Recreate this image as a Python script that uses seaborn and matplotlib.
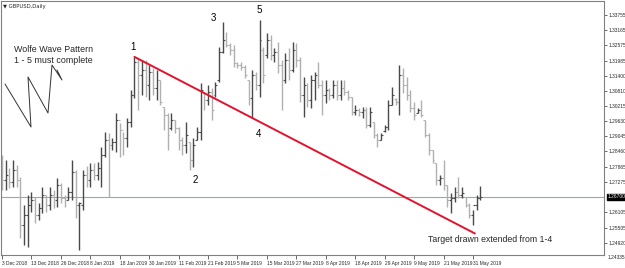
import numpy as np
import pandas as pd
import matplotlib
matplotlib.use('Agg')
import matplotlib.pyplot as plt
import matplotlib.transforms as mtransforms
import seaborn as sns

# GBPUSD daily OHLC (3 Dec 2018 - early Jun 2019)
opens = [1.2794, 1.2735, 1.2755, 1.2728, 1.2774, 1.2735, 1.2561, 1.2600, 1.2638, 1.2658,
         1.2600, 1.2627, 1.2677, 1.2638, 1.2677, 1.2658, 1.2716, 1.2665, 1.2658, 1.2689,
         1.2766, 1.2638, 1.2638, 1.2755, 1.2735, 1.2774, 1.2755, 1.2782, 1.2832, 1.2891,
         1.2871, 1.2883, 1.2968, 1.2929, 1.2898, 1.2960, 1.3065, 1.3193, 1.3143, 1.3162,
         1.3104, 1.3154, 1.3092, 1.3123, 1.3019, 1.2988, 1.2937, 1.2968, 1.2937, 1.2891,
         1.2871, 1.2883, 1.2813, 1.2891, 1.2922, 1.3073, 1.3046, 1.3077, 1.3065, 1.3123,
         1.3232, 1.3279, 1.3259, 1.3240, 1.3189, 1.3182, 1.3174, 1.3123, 1.3053, 1.3143,
         1.3104, 1.3240, 1.3220, 1.3279, 1.3220, 1.3232, 1.3182, 1.3123, 1.3201, 1.3162,
         1.3240, 1.3201, 1.3065, 1.3104, 1.3046, 1.3123, 1.3143, 1.3104, 1.3065, 1.3085,
         1.3065, 1.3104, 1.3065, 1.3092, 1.3077, 1.3057, 1.2999, 1.3007, 1.2999, 1.3007,
         1.2949, 1.2960, 1.2910, 1.2891, 1.2925, 1.2941, 1.3026, 1.3050, 1.3038, 1.3143,
         1.3104, 1.3065, 1.3015, 1.2995, 1.3007, 1.2968, 1.2910, 1.2852, 1.2801, 1.2735,
         1.2743, 1.2716, 1.2658, 1.2665, 1.2689, 1.2677, 1.2669, 1.2638, 1.2600, 1.2638,
         1.2665]
highs = [1.2832, 1.2813, 1.2782, 1.2813, 1.2794, 1.2747, 1.2638, 1.2677, 1.2689, 1.2669,
         1.2646, 1.2708, 1.2677, 1.2708, 1.2697, 1.2743, 1.2724, 1.2677, 1.2708, 1.2813,
         1.2774, 1.2650, 1.2774, 1.2790, 1.2801, 1.2801, 1.2805, 1.2863, 1.2922, 1.2918,
         1.2898, 1.2995, 1.2956, 1.2922, 1.2976, 1.3085, 1.3213, 1.3209, 1.3201, 1.3201,
         1.3182, 1.3170, 1.3162, 1.3123, 1.3019, 1.2995, 1.2995, 1.2968, 1.2941, 1.2902,
         1.2960, 1.2883, 1.2898, 1.2941, 1.3112, 1.3073, 1.3104, 1.3092, 1.3116, 1.3251,
         1.3348, 1.3310, 1.3267, 1.3259, 1.3193, 1.3193, 1.3182, 1.3123, 1.3162, 1.3154,
         1.3356, 1.3251, 1.3306, 1.3298, 1.3247, 1.3271, 1.3201, 1.3228, 1.3247, 1.3271,
         1.3267, 1.3213, 1.3135, 1.3112, 1.3143, 1.3154, 1.3193, 1.3123, 1.3123, 1.3092,
         1.3123, 1.3123, 1.3123, 1.3123, 1.3085, 1.3057, 1.3026, 1.3015, 1.3019, 1.3019,
         1.3019, 1.2960, 1.2918, 1.2918, 1.2949, 1.3046, 1.3096, 1.3053, 1.3182, 1.3170,
         1.3135, 1.3085, 1.3038, 1.3015, 1.3046, 1.2968, 1.2918, 1.2852, 1.2801, 1.2755,
         1.2813, 1.2716, 1.2685, 1.2708, 1.2747, 1.2708, 1.2669, 1.2646, 1.2619, 1.2677,
         1.2712]
lows = [1.2697, 1.2697, 1.2704, 1.2708, 1.2708, 1.2510, 1.2483, 1.2475, 1.2611, 1.2568,
        1.2580, 1.2607, 1.2611, 1.2619, 1.2627, 1.2631, 1.2646, 1.2631, 1.2658, 1.2658,
        1.2588, 1.2464, 1.2619, 1.2708, 1.2708, 1.2735, 1.2735, 1.2708, 1.2825, 1.2669,
        1.2852, 1.2844, 1.2825, 1.2832, 1.2863, 1.2941, 1.3053, 1.3007, 1.3065, 1.3057,
        1.3046, 1.3065, 1.3046, 1.3026, 1.2929, 1.2852, 1.2929, 1.2918, 1.2852, 1.2832,
        1.2840, 1.2774, 1.2786, 1.2891, 1.2891, 1.3007, 1.3026, 1.2968, 1.3057, 1.3116,
        1.3228, 1.3251, 1.3220, 1.3174, 1.3170, 1.3162, 1.3131, 1.3026, 1.2976, 1.3085,
        1.3057, 1.3112, 1.3209, 1.3201, 1.3193, 1.3150, 1.3007, 1.3112, 1.3123, 1.3154,
        1.3174, 1.3038, 1.2980, 1.3019, 1.3015, 1.3046, 1.3092, 1.2988, 1.3034, 1.3046,
        1.3053, 1.3046, 1.3046, 1.3065, 1.3046, 1.2988, 1.2988, 1.2984, 1.2976, 1.2937,
        1.2941, 1.2898, 1.2863, 1.2891, 1.2922, 1.2929, 1.3026, 1.3026, 1.2988, 1.3073,
        1.3046, 1.2999, 1.2968, 1.2995, 1.2980, 1.2902, 1.2832, 1.2801, 1.2716, 1.2716,
        1.2697, 1.2631, 1.2607, 1.2650, 1.2665, 1.2665, 1.2631, 1.2588, 1.2561, 1.2619,
        1.2658]
closes = [1.2735, 1.2755, 1.2728, 1.2774, 1.2735, 1.2561, 1.2600, 1.2638, 1.2658, 1.2600,
          1.2627, 1.2677, 1.2638, 1.2677, 1.2658, 1.2716, 1.2665, 1.2658, 1.2689, 1.2766,
          1.2638, 1.2646, 1.2755, 1.2735, 1.2774, 1.2755, 1.2782, 1.2832, 1.2891, 1.2871,
          1.2883, 1.2968, 1.2929, 1.2898, 1.2960, 1.3065, 1.3193, 1.3143, 1.3162, 1.3104,
          1.3154, 1.3092, 1.3123, 1.3038, 1.2988, 1.2910, 1.2968, 1.2937, 1.2891, 1.2871,
          1.2910, 1.2813, 1.2871, 1.2922, 1.3085, 1.3046, 1.3077, 1.3007, 1.3104, 1.3232,
          1.3279, 1.3259, 1.3240, 1.3189, 1.3182, 1.3174, 1.3143, 1.3053, 1.3143, 1.3104,
          1.3279, 1.3143, 1.3279, 1.3220, 1.3232, 1.3182, 1.3123, 1.3201, 1.3162, 1.3240,
          1.3201, 1.3065, 1.3104, 1.3046, 1.3123, 1.3143, 1.3104, 1.3065, 1.3085, 1.3065,
          1.3104, 1.3065, 1.3092, 1.3077, 1.3057, 1.2999, 1.3007, 1.2999, 1.3007, 1.2949,
          1.2999, 1.2910, 1.2891, 1.2910, 1.2941, 1.3026, 1.3065, 1.3038, 1.3143, 1.3104,
          1.3065, 1.3015, 1.2988, 1.3007, 1.2988, 1.2910, 1.2852, 1.2813, 1.2735, 1.2743,
          1.2716, 1.2658, 1.2665, 1.2689, 1.2677, 1.2685, 1.2638, 1.2600, 1.2638, 1.2665,
          1.2670]

date_labels = ['3 Dec 2018', '13 Dec 2018', '26 Dec 2018', '8 Jan 2019', '18 Jan 2019',
               '30 Jan 2019', '11 Feb 2019', '21 Feb 2019', '5 Mar 2019', '15 Mar 2019',
               '27 Mar 2019', '8 Apr 2019', '18 Apr 2019', '29 Apr 2019', '9 May 2019',
               '21 May 2019', '31 May 2019']
bars_per_label = 8

price_labels = ['1.33755', '1.33165', '1.32575', '1.31985', '1.31400', '1.30810',
                '1.30215', '1.29630', '1.29045', '1.28460', '1.27865', '1.27275',
                '1.26105', '1.25505', '1.24920']
bottom_price_label = '1.24335'

# Wolfe wave points (bar index) and which end of the bar they sit on
wave_bars = [36, 51, 60, 68, 70]
wave_names = ['1', '2', '3', '4', '5']
wave_on_high = [True, False, True, False, True]
target_bar = 128.5

df = pd.DataFrame({'open': opens, 'high': highs, 'low': lows, 'close': closes})
df['bar'] = np.arange(len(df))
up = df['close'] >= df['open']

sns.set_theme(style='white')
plt.rcParams['font.family'] = ['Liberation Sans', 'DejaVu Sans']

fig = plt.figure(figsize=(6.25, 2.68), dpi=100)
ax = fig.add_axes([1 / 625, 1 - 255 / 268, 603 / 625, 254 / 268])
ax.set_xlim(-0.27, 163.6)
ax.set_ylim(1.24443, 1.34298)

# OHLC bars: dark for up days, light for down days
for mask, col in [(up, '#4a4a4a'), (~up, '#b0b0b0')]:
    d = df[mask]
    ax.vlines(d['bar'], d['low'], d['high'], color=col, lw=1.0)
    ax.hlines(d['open'], d['bar'] - 0.5, d['bar'], color=col, lw=0.8)
    ax.hlines(d['close'], d['bar'], d['bar'] + 0.5, color=col, lw=0.8)

# current price line
last = closes[-1]
ax.axhline(last, color='#9aa6b4', lw=0.8, zorder=0)

# trend line 1 -> 4 extended to the target
p1 = highs[wave_bars[0]]
p4 = lows[wave_bars[3]]
slope = (p4 - p1) / (wave_bars[3] - wave_bars[0])
trend = pd.DataFrame({'bar': [wave_bars[0], target_bar],
                      'price': [p1, p1 + slope * (target_bar - wave_bars[0])]})
sns.lineplot(data=trend, x='bar', y='price', color='#e3122d', lw=1.4, ax=ax)

wave_offsets = [(-1, 10), (6, -10), (-9, 4), (6, -16), (0, 10)]
for b, name, hi, off in zip(wave_bars, wave_names, wave_on_high, wave_offsets):
    y = highs[b] if hi else lows[b]
    ax.annotate(name, (b, y), xytext=off, textcoords='offset pixels',
                ha='center', va='center', fontsize=7, color='black')

ax.text(13 / 603, 1 - 44 / 254, 'Wolfe Wave Pattern\n1 - 5 must complete',
        transform=ax.transAxes, fontsize=6.4, va='top', ha='left', linespacing=1.25)
ax.text(132.6, 1.2503, 'Target drawn extended from 1-4', fontsize=6.3,
        ha='center', va='center')

# hand-drawn wave sketch (pixel positions on the screenshot)
sketch_x = [5, 31, 28, 48, 52, 62, 57]
sketch_y = [84, 127, 77, 113, 65, 80, 70]
ax.plot(np.array(sketch_x) / 625, 1 - np.array(sketch_y) / 268, color='#333333', lw=0.7,
        transform=fig.transFigure, clip_on=False)

ax.text(0.004, 0.988, '\u25BC GBPUSD,Daily', transform=ax.transAxes, fontsize=3.8,
        va='top', ha='left', family=['DejaVu Sans'])

# axes styling like the terminal
for s in ax.spines.values():
    s.set_color('#808080')
    s.set_linewidth(0.8)
ax.yaxis.tick_right()
tick_vals = [float(t) for t in price_labels]
ax.set_yticks(tick_vals, price_labels)
ax.tick_params(axis='y', length=2, width=0.6, pad=1.2, labelsize=3.5, color='#505050', right=True)
ax.set_xticks(np.arange(len(date_labels)) * bars_per_label, date_labels)
ax.tick_params(axis='x', length=3, width=0.6, pad=1.2, labelsize=3.5, color='#505050', bottom=True)
for lbl in ax.get_xticklabels():
    lbl.set_ha('left')
ax.set_xlabel('')
ax.set_ylabel('')
ax.grid(False)

trans = mtransforms.blended_transform_factory(ax.transAxes, ax.transData)
ax.text(1.006, float(bottom_price_label), bottom_price_label, transform=trans,
        fontsize=3.5, va='center', ha='left', clip_on=False)
ax.text(1.006, last, f'{last:.5f}', transform=trans, fontsize=3.5, va='center', ha='left',
        color='white', clip_on=False,
        bbox=dict(boxstyle='square,pad=0.15', fc='black', ec='black'))

fig.savefig('out.png', dpi=100)
